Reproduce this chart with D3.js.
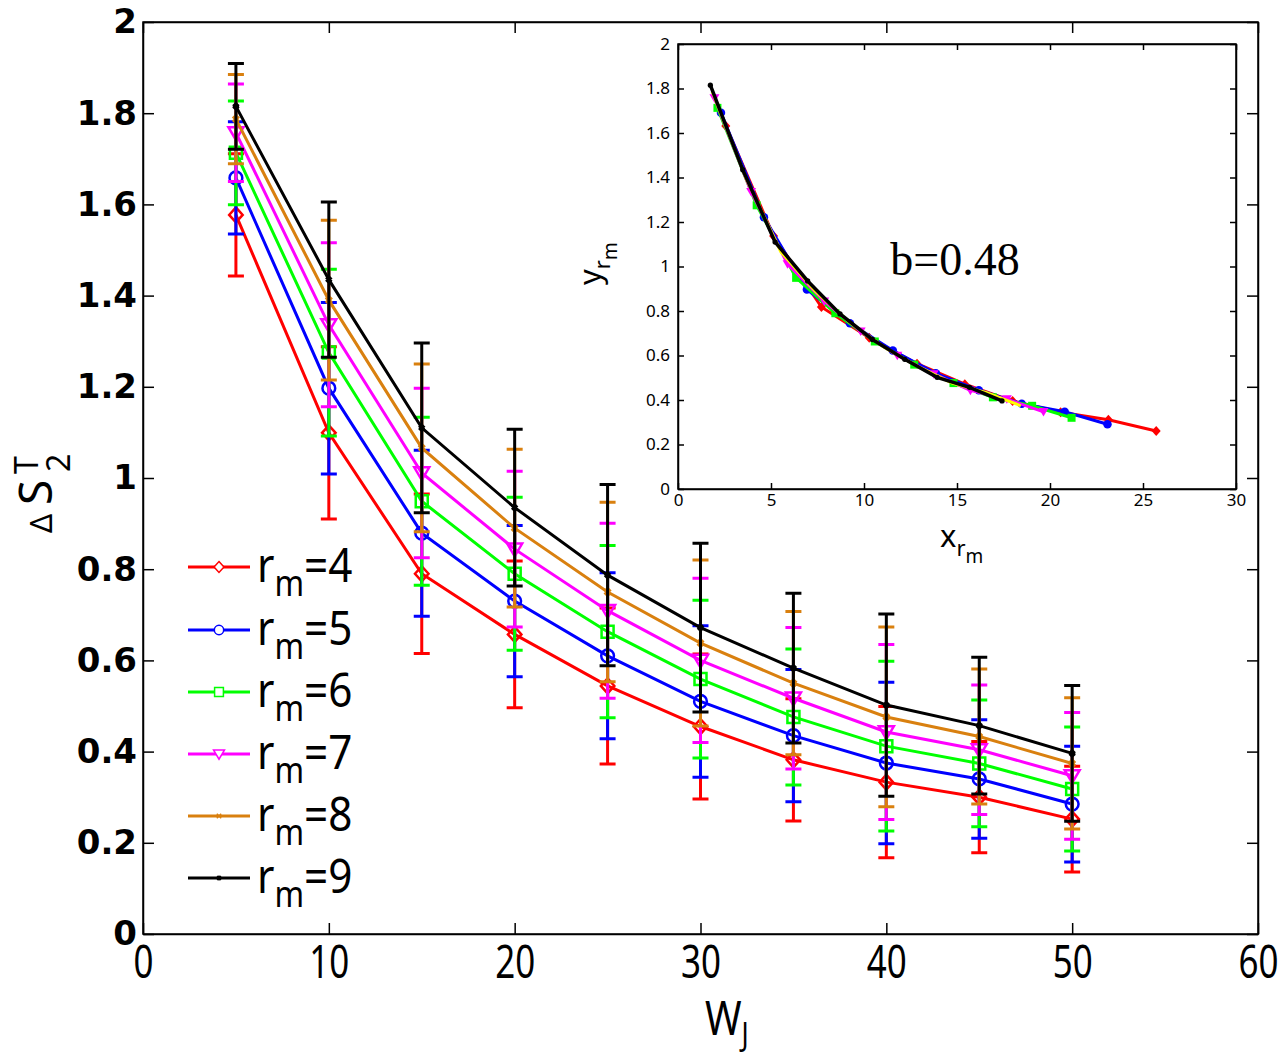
<!DOCTYPE html>
<html lang="en">
<head>
  <meta charset="UTF-8">
  <title>Delta S2T vs WJ</title>
  <style>
    body { margin: 0; background: #fff; }
    .ylab { font-family: "DejaVu Sans", sans-serif; font-weight: bold; font-size: 34px; }
    .xlab { font-family: "Noto Sans", sans-serif; font-size: 46px; }
    .small { font-family: "Noto Sans", "Open Sans", sans-serif; font-size: 17px; }
    .leg { font-family: "Noto Sans", sans-serif; font-size: 48px; }
  </style>
</head>
<body>
  <svg id="svg" width="1286" height="1060"></svg>
  <script src="https://cdn.jsdelivr.net/npm/d3@7"></script>
  <script>
    // W_J values and the r_m labels
    const wj = [5, 10, 15, 20, 25, 30, 35, 40, 45, 50]
    const rmLabels = ['4', '5', '6', '7', '8', '9']
    const colors = ['#ff0000', '#0000ff', '#00ff00', '#ff00ff', '#d9800f', '#000000']
    const insetColors = ['#ff0000', '#0000ff', '#00ff00', '#ff00ff', '#ffff00', '#000000']

    // mean Delta S2T per r_m
    const meanR4 = [1.577, 1.099, 0.790, 0.657, 0.544, 0.455, 0.382, 0.333, 0.300, 0.252]
    const meanR5 = [1.658, 1.197, 0.879, 0.730, 0.610, 0.510, 0.435, 0.375, 0.340, 0.285]
    const meanR6 = [1.713, 1.275, 0.949, 0.790, 0.663, 0.559, 0.476, 0.412, 0.374, 0.318]
    const meanR7 = [1.757, 1.336, 1.011, 0.844, 0.709, 0.600, 0.517, 0.443, 0.404, 0.347]
    const meanR8 = [1.787, 1.390, 1.066, 0.890, 0.750, 0.638, 0.550, 0.476, 0.433, 0.374]
    const meanR9 = [1.815, 1.435, 1.110, 0.935, 0.787, 0.672, 0.583, 0.502, 0.457, 0.396]

    // error bar half-lengths
    const errR4 = [0.134, 0.189, 0.175, 0.161, 0.171, 0.159, 0.134, 0.166, 0.122, 0.116]
    const errR5 = [0.123, 0.188, 0.182, 0.166, 0.182, 0.166, 0.145, 0.177, 0.130, 0.127]
    const errR6 = [0.114, 0.183, 0.184, 0.168, 0.189, 0.173, 0.149, 0.186, 0.139, 0.136]
    const errR7 = [0.107, 0.180, 0.186, 0.171, 0.192, 0.180, 0.155, 0.192, 0.142, 0.139]
    const errR8 = [0.098, 0.175, 0.184, 0.173, 0.197, 0.182, 0.157, 0.197, 0.148, 0.144]
    const errR9 = [0.094, 0.170, 0.186, 0.172, 0.199, 0.185, 0.164, 0.200, 0.150, 0.149]

    // inset (scaled) points
    const insXR4 = [2.57, 5.14, 7.71, 10.28, 12.85, 15.42, 17.99, 20.57, 23.14, 25.71]
    const insXR5 = [2.31, 4.62, 6.93, 9.24, 11.55, 13.86, 16.17, 18.48, 20.79, 23.09]
    const insXR6 = [2.12, 4.23, 6.35, 8.46, 10.58, 12.70, 14.81, 16.93, 19.04, 21.16]
    const insXR7 = [1.96, 3.93, 5.89, 7.86, 9.82, 11.79, 13.75, 15.72, 17.68, 19.65]
    const insXR8 = [1.84, 3.69, 5.53, 7.37, 9.22, 11.06, 12.90, 14.74, 16.59, 18.43]
    const insXR9 = [1.74, 3.48, 5.22, 6.97, 8.71, 10.45, 12.19, 13.93, 15.67, 17.42]
    const insYR4 = [1.632, 1.137, 0.818, 0.680, 0.563, 0.471, 0.395, 0.345, 0.311, 0.261]
    const insYR5 = [1.691, 1.221, 0.897, 0.745, 0.622, 0.520, 0.444, 0.383, 0.347, 0.291]
    const insYR6 = [1.713, 1.275, 0.949, 0.790, 0.663, 0.559, 0.476, 0.412, 0.374, 0.320]
    const insYR7 = [1.757, 1.336, 1.011, 0.844, 0.709, 0.600, 0.517, 0.443, 0.404, 0.347]
    const insYR8 = [1.787, 1.390, 1.066, 0.890, 0.750, 0.638, 0.550, 0.476, 0.433, 0.374]
    const insYR9 = [1.815, 1.435, 1.110, 0.935, 0.787, 0.672, 0.583, 0.502, 0.457, 0.396]

    const mainTicksX = [0, 10, 20, 30, 40, 50, 60]
    const mainTicksY = [0, 0.2, 0.4, 0.6, 0.8, 1, 1.2, 1.4, 1.6, 1.8, 2]
    const insetTicksX = [0, 5, 10, 15, 20, 25, 30]
    const insetTicksY = [0, 0.2, 0.4, 0.6, 0.8, 1, 1.2, 1.4, 1.6, 1.8, 2]

    const means = [meanR4, meanR5, meanR6, meanR7, meanR8, meanR9]
    const errs = [errR4, errR5, errR6, errR7, errR8, errR9]
    const insX = [insXR4, insXR5, insXR6, insXR7, insXR8, insXR9]
    const insY = [insYR4, insYR5, insYR6, insYR7, insYR8, insYR9]
    const markerKinds = ['diamond', 'circle', 'square', 'tridown', 'cross', 'star']

    const svg = d3.select('#svg')
    const fmt = d => d3.format('~g')(d)

    // marker path for a given kind and size
    function markerPath(kind, s) {
      const p = d3.path()
      if (kind === 'diamond') {
        p.moveTo(0, -s); p.lineTo(s * 0.9, 0); p.lineTo(0, s); p.lineTo(-s * 0.9, 0); p.closePath()
      } else if (kind === 'circle') {
        p.arc(0, 0, s * 0.85, 0, 2 * Math.PI)
      } else if (kind === 'square') {
        p.rect(-s * 0.8, -s * 0.8, s * 1.6, s * 1.6)
      } else if (kind === 'tridown') {
        p.moveTo(-s, -s * 0.75); p.lineTo(s, -s * 0.75); p.lineTo(0, s * 0.95); p.closePath()
      } else if (kind === 'cross') {
        p.moveTo(-s * 0.4, -s * 0.4); p.lineTo(s * 0.4, s * 0.4)
        p.moveTo(-s * 0.4, s * 0.4); p.lineTo(s * 0.4, -s * 0.4)
      } else {
        p.moveTo(-s * 0.45, 0); p.lineTo(s * 0.45, 0)
        p.moveTo(0, -s * 0.45); p.lineTo(0, s * 0.45)
        p.moveTo(-s * 0.35, -s * 0.35); p.lineTo(s * 0.35, s * 0.35)
        p.moveTo(-s * 0.35, s * 0.35); p.lineTo(s * 0.35, -s * 0.35)
      }
      return p.toString()
    }

    // ---------- main plot ----------
    const mainBox = { left: 143, right: 1258, top: 22, bottom: 934 }
    const x = d3.scaleLinear().domain([0, 60]).range([mainBox.left, mainBox.right])
    const y = d3.scaleLinear().domain([0, 2]).range([mainBox.bottom, mainBox.top])

    const bottomAxis = svg.append('g')
      .attr('transform', `translate(0, ${mainBox.bottom})`)
      .call(d3.axisBottom(x).tickValues(mainTicksX).tickFormat(fmt).tickSize(-11).tickSizeOuter(0).tickPadding(8))
    // condensed look of the x tick labels
    bottomAxis.selectAll('text').attr('class', 'xlab').attr('font-size', null).attr('font-family', null)
      .attr('fill', '#000').attr('dy', '0.78em').attr('transform', 'scale(0.76,1)')
    const leftAxis = svg.append('g')
      .attr('transform', `translate(${mainBox.left}, 0)`)
      .call(d3.axisLeft(y).tickValues(mainTicksY).tickFormat(fmt).tickSize(-11).tickSizeOuter(0).tickPadding(6))
    leftAxis.selectAll('text').attr('class', 'ylab').attr('font-size', null).attr('font-family', null).attr('fill', '#000')
    svg.append('g')
      .attr('transform', `translate(0, ${mainBox.top})`)
      .call(d3.axisTop(x).tickValues(mainTicksX).tickFormat('').tickSize(-11).tickSizeOuter(0))
    svg.append('g')
      .attr('transform', `translate(${mainBox.right}, 0)`)
      .call(d3.axisRight(y).tickValues(mainTicksY).tickFormat('').tickSize(-11).tickSizeOuter(0))
    svg.selectAll('.domain, .tick line').attr('stroke', '#000').attr('stroke-width', 1.5)

    // series: error bars, line, markers
    const line = d3.line().x(d => x(d.w)).y(d => y(d.m))
    means.forEach((m, si) => {
      const pts = wj.map((w, i) => ({ w: w, m: m[i], e: errs[si][i] }))
      const g = svg.append('g').attr('stroke', colors[si]).attr('fill', 'none')
      g.selectAll('path.eb')
        .data(pts)
        .enter()
        .append('path')
        .attr('class', 'eb')
        .attr('stroke-width', 3)
        .attr('d', d => {
          const cx = x(d.w), y0 = y(d.m - d.e), y1 = y(d.m + d.e)
          return `M${cx},${y0}V${y1}M${cx - 8},${y0}H${cx + 8}M${cx - 8},${y1}H${cx + 8}`
        })
      g.append('path')
        .datum(pts)
        .attr('stroke-width', 3)
        .attr('d', line)
      const big = si >= 4
      g.selectAll('path.mk')
        .data(pts)
        .enter()
        .append('path')
        .attr('class', 'mk')
        .attr('transform', d => `translate(${x(d.w)},${y(d.m)})`)
        .attr('stroke-width', big ? 3.5 : 2.5)
        .attr('d', markerPath(markerKinds[si], big ? 7 : 7.5))
    })

    // legend
    const legendY = [567, 630, 692, 754, 816, 878]
    rmLabels.forEach((r, i) => {
      const g = svg.append('g').attr('transform', `translate(0, ${legendY[i]})`)
      g.append('line').attr('x1', 188).attr('x2', 250).attr('y1', 0).attr('y2', 0)
        .attr('stroke', colors[i]).attr('stroke-width', 3)
      g.append('path').attr('transform', 'translate(219,0)')
        .attr('d', markerPath(markerKinds[i], 5.5))
        .attr('fill', i >= 4 ? 'none' : '#fff').attr('stroke', colors[i]).attr('stroke-width', 1.5)
      const t = g.append('text').attr('class', 'leg').attr('transform', 'translate(257,15) scale(0.88,1)')
      t.append('tspan').text('r')
      t.append('tspan').attr('dy', 14).attr('font-size', 36).text('m')
      t.append('tspan').attr('dy', -14).text('=' + r)
    })

    // axis titles
    const xt = svg.append('text').attr('class', 'xlab').attr('transform', 'translate(705,1035) scale(0.82,1)')
      .style('font-size', '48px')
    xt.append('tspan').text('W')
    xt.append('tspan').attr('dy', 11).attr('font-size', 32).text('J')

    const yt = svg.append('g').attr('transform', 'rotate(-90)')
    yt.append('text').attr('class', 'xlab').attr('x', -533).attr('y', 52).style('font-size', '30px').text('Δ')
    yt.append('text').attr('class', 'xlab').attr('x', -505).attr('y', 52).style('font-size', '46px').text('S')
    yt.append('text').attr('class', 'xlab').attr('x', -474).attr('y', 38).style('font-size', '32px').text('T')
    yt.append('text').attr('class', 'xlab').attr('x', -472).attr('y', 70).style('font-size', '32px').text('2')

    // ---------- inset ----------
    const inBox = { left: 678, right: 1236, top: 44, bottom: 489 }
    const ix = d3.scaleLinear().domain([0, 30]).range([inBox.left, inBox.right])
    const iy = d3.scaleLinear().domain([0, 2]).range([inBox.bottom, inBox.top])

    svg.append('rect')
      .attr('x', inBox.left).attr('y', inBox.top)
      .attr('width', inBox.right - inBox.left).attr('height', inBox.bottom - inBox.top)
      .attr('fill', '#fff')

    const ib = svg.append('g')
      .attr('transform', `translate(0, ${inBox.bottom})`)
      .call(d3.axisBottom(ix).tickValues(insetTicksX).tickFormat(fmt).tickSize(-6).tickSizeOuter(0).tickPadding(5))
    const il = svg.append('g')
      .attr('transform', `translate(${inBox.left}, 0)`)
      .call(d3.axisLeft(iy).tickValues(insetTicksY).tickFormat(fmt).tickSize(-6).tickSizeOuter(0).tickPadding(8))
    const itop = svg.append('g')
      .attr('transform', `translate(0, ${inBox.top})`)
      .call(d3.axisTop(ix).tickValues(insetTicksX).tickFormat('').tickSize(-6).tickSizeOuter(0))
    const iright = svg.append('g')
      .attr('transform', `translate(${inBox.right}, 0)`)
      .call(d3.axisRight(iy).tickValues(insetTicksY).tickFormat('').tickSize(-6).tickSizeOuter(0))
    ;[ib, il, itop, iright].forEach(a => a.selectAll('.domain, .tick line').attr('stroke', '#000').attr('stroke-width', 1.5))
    ;[ib, il].forEach(a => a.selectAll('text').attr('class', 'small').attr('font-size', null).attr('font-family', null).attr('fill', '#000'))

    const iline = d3.line().x(d => ix(d.x)).y(d => iy(d.y))
    const insetMarks = ['diamond', 'circle', 'square', 'tridown', 'none', 'dot']
    insX.forEach((xs, si) => {
      const pts = xs.map((v, i) => ({ x: v, y: insY[si][i] }))
      const g = svg.append('g')
      g.append('path').datum(pts)
        .attr('fill', 'none').attr('stroke', insetColors[si]).attr('stroke-width', si === 5 ? 3.5 : 3)
        .attr('d', iline)
      if (insetMarks[si] === 'none') return
      g.selectAll('path.m')
        .data(pts)
        .enter()
        .append('path')
        .attr('class', 'm')
        .attr('transform', d => `translate(${ix(d.x)},${iy(d.y)})`)
        .attr('fill', insetColors[si])
        .attr('d', insetMarks[si] === 'dot' ? d3.symbol().type(d3.symbolCircle).size(22)() : markerPath(insetMarks[si], 5))
    })

    // inset labels
    svg.append('text').attr('x', 955).attr('y', 275).attr('text-anchor', 'middle')
      .attr('font-family', '"Liberation Serif", serif').attr('font-size', 46).text('b=0.48')

    const ixl = svg.append('text').attr('class', 'small').attr('x', 940).attr('y', 547).style('font-size', '31px')
    ixl.append('tspan').text('x')
    ixl.append('tspan').attr('dy', 9).attr('font-size', 22).text('r')
    ixl.append('tspan').attr('dy', 7).attr('font-size', 19).text('m')

    const iyl = svg.append('text').attr('class', 'small')
      .attr('transform', 'translate(601, 285) rotate(-90)').style('font-size', '31px')
    iyl.append('tspan').text('y')
    iyl.append('tspan').attr('dy', 9).attr('font-size', 22).text('r')
    iyl.append('tspan').attr('dy', 7).attr('font-size', 19).text('m')

    // frames drawn last so they sit on top
    svg.append('rect')
      .attr('x', mainBox.left).attr('y', mainBox.top)
      .attr('width', mainBox.right - mainBox.left).attr('height', mainBox.bottom - mainBox.top)
      .attr('fill', 'none').attr('stroke', '#000').attr('stroke-width', 1.5)
    svg.append('rect')
      .attr('x', inBox.left).attr('y', inBox.top)
      .attr('width', inBox.right - inBox.left).attr('height', inBox.bottom - inBox.top)
      .attr('fill', 'none').attr('stroke', '#000').attr('stroke-width', 1.5)
  </script>
</body>
</html>
